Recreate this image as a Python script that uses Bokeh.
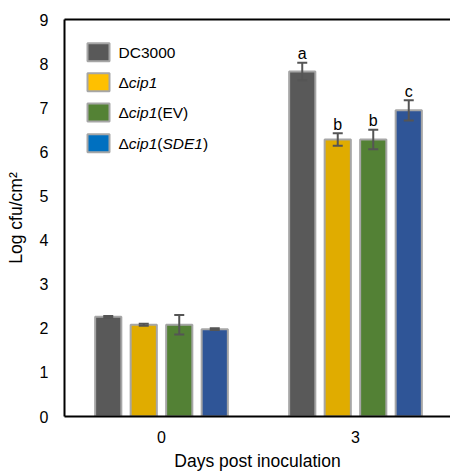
from bokeh.plotting import figure
from bokeh.models import Range1d, FixedTicker, ColumnDataSource, LinearAxis
from bokeh.core.properties import value
from bokeh.embed import file_html
from bokeh.resources import INLINE

# ---------------- data ----------------
days = ["0", "3"]
strains = ["DC3000", "Δcip1", "Δcip1(EV)", "Δcip1(SDE1)"]
means_day0 = [2.26, 2.08, 2.08, 1.98]
err_day0 = [0.02, 0.02, 0.22, 0.02]
means_day3 = [7.82, 6.28, 6.28, 6.94]
err_day3 = [0.20, 0.14, 0.22, 0.23]
letters_day3 = ["a", "b", "b", "c"]
y_ticks = [0, 1, 2, 3, 4, 5, 6, 7, 8, 9]
x_title = "Days post inoculation"
y_title = "Log cfu/cm²"

bar_colors = ["#595959", "#E0AC00", "#538135", "#2F5597"]
legend_colors = ["#595959", "#FFC000", "#548235", "#0070C0"]
legend_segments = [
    [("DC3000", False)],
    [("Δ", False), ("cip1", True)],
    [("Δ", False), ("cip1", True), ("(EV)", False)],
    [("Δ", False), ("cip1", True), ("(", False), ("SDE1", True), (")", False)],
]

FONT = "Liberation Sans"

# ---------------- layout ----------------
W, H = 450, 473
FL, FT, FR, FB = 64, 19, 450, 420          # frame in canvas px
PX_PER_X = 194.0
XMIN = -0.5
XMAX = XMIN + (FR - FL) / PX_PER_X
YMIN, YMAX = 0, 9
spacing = 0.183
bar_w = 0.135


def dx(px):
    return XMIN + (px - FL) / (FR - FL) * (XMAX - XMIN)


def dy(py):
    return YMIN + (FB - py) / (FB - FT) * (YMAX - YMIN)


p = figure(width=W, height=H, output_backend="svg", toolbar_location=None,
           x_range=Range1d(XMIN, XMAX), y_range=Range1d(YMIN, YMAX),
           min_border_left=FL, min_border_top=FT, min_border_right=W - FR,
           min_border_bottom=H - FB)
p.outline_line_color = None
p.xgrid.grid_line_color = None
p.ygrid.grid_line_color = None
p.background_fill_color = "white"
p.border_fill_color = "white"

xs, tops, errs, cols = [], [], [], []
for gi, (m_list, e_list) in enumerate([(means_day0, err_day0), (means_day3, err_day3)]):
    for j in range(4):
        xs.append(gi + (j - 1.5) * spacing)
        tops.append(m_list[j])
        errs.append(e_list[j])
        cols.append(bar_colors[j])

src = ColumnDataSource(dict(x=xs, top=tops, color=cols,
                            upper=[t + e for t, e in zip(tops, errs)],
                            lower=[t - e for t, e in zip(tops, errs)]))
p.vbar(x="x", top="top", bottom=0, width=bar_w, fill_color="color",
       line_color="#A6A6A6", line_width=2, source=src)

# error bars (stems + caps)
ERR_COLOR = "#555555"
p.segment(x0="x", y0="lower", x1="x", y1="upper", line_color=ERR_COLOR,
          line_width=2, source=src)
p.scatter(x="x", y="upper", marker="dash", size=10, line_color=ERR_COLOR,
          line_width=2, source=src)
p.scatter(x="x", y="lower", marker="dash", size=10, line_color=ERR_COLOR,
          line_width=2, source=src)

# significance letters
lx = [1 + (j - 1.5) * spacing for j in range(4)]
ly = [m + e for m, e in zip(means_day3, err_day3)]
p.text(x=lx, y=ly, text=letters_day3, text_align="center", text_baseline="alphabetic",
       y_offset=-9, text_font=value(FONT), text_font_size="16px", text_color="black")

# axes
bottom_ax = p.below[0]
left_ax = p.left[0]
left_ax.ticker = FixedTicker(ticks=y_ticks)
bottom_ax.ticker = FixedTicker(ticks=[0, 1])
bottom_ax.major_label_overrides = {0: days[0], 1: days[1]}
for ax in (bottom_ax, left_ax):
    ax.axis_line_color = "black"
    ax.axis_line_width = 2
    ax.major_tick_line_color = None
    ax.minor_tick_line_color = None
    ax.major_label_text_font = FONT
    ax.major_label_text_font_size = "16px"
    ax.major_label_text_color = "black"
    ax.axis_label_text_font = FONT
    ax.axis_label_text_font_size = "17.5px"
    ax.axis_label_text_font_style = "normal"
    ax.axis_label_text_color = "black"
left_ax.major_label_standoff = 10
bottom_ax.major_label_standoff = 8
left_ax.axis_label = y_title
left_ax.axis_label_standoff = 11
bottom_ax.axis_label = x_title
bottom_ax.axis_label_standoff = 5

# top frame line as an unlabeled axis
top_ax = LinearAxis(ticker=FixedTicker(ticks=[]), axis_line_color="black",
                    axis_line_width=2, major_tick_line_color=None,
                    minor_tick_line_color=None)
p.add_layout(top_ax, "above")

# ---------------- legend (manual, mixed italic) ----------------
widths = {"Δ": 0.668, "c": 0.5, "i": 0.222, "p": 0.556, "1": 0.556, "(": 0.333,
          ")": 0.333, "E": 0.667, "V": 0.667, "S": 0.667, "D": 0.722, "C": 0.722,
          "3": 0.556, "0": 0.556}
LFS = 15.5
row_py = [52, 82.5, 113, 144]
sw_cx = 98
txt_x0 = 118
p.rect(x=[dx(sw_cx)] * 4, y=[dy(r) for r in row_py], width=22, height=18,
       width_units="screen", height_units="screen", fill_color=legend_colors,
       line_color="#A6A6A6", line_width=2)
nx, ny, nt, ix, iy, it = [], [], [], [], [], []
for r, segs in zip(row_py, legend_segments):
    cx = txt_x0
    for s, ital in segs:
        if ital:
            ix.append(dx(cx)); iy.append(dy(r)); it.append(s)
        else:
            nx.append(dx(cx)); ny.append(dy(r)); nt.append(s)
        cx += sum(widths[ch] for ch in s) * LFS
p.text(x=nx, y=ny, text=nt, text_align="left", text_baseline="middle",
       text_font=value(FONT), text_font_size=f"{LFS}px", text_color="black")
p.text(x=ix, y=iy, text=it, text_align="left", text_baseline="middle",
       text_font=value(FONT), text_font_size=f"{LFS}px", text_font_style="italic",
       text_color="black")

open("out.html", "w").write(file_html(p, INLINE))
